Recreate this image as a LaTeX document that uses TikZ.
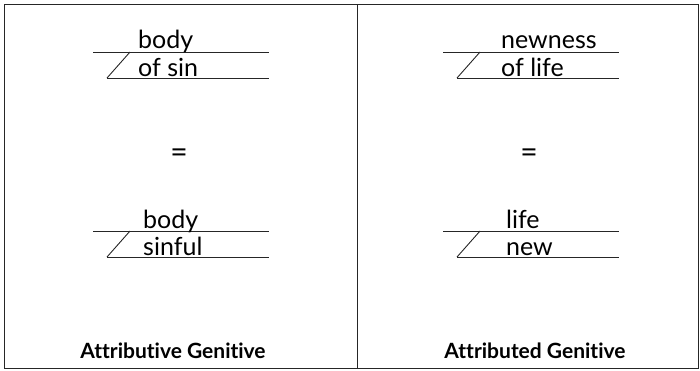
\documentclass[tikz,border=0pt]{standalone}
\usepackage{fontspec}
\setmainfont{Lato}[Ligatures=NoCommon]
\usepackage{tikz}
\usetikzlibrary{positioning, calc}

\tikzset{
  word/.style={font=\fontsize{25}{25}\selectfont, inner sep=0pt, anchor=base west},
  equals/.style={font=\fontsize{30}{30}\selectfont, inner sep=0pt},
  caption/.style={font=\bfseries\fontsize{21}{21}\selectfont, inner sep=0pt, anchor=base},
  rule/.style={line width=0.9pt, black!85}
}

\begin{document}
\begin{tikzpicture}[x=1pt, y=-1pt]
  \useasboundingbox (0,0) rectangle (700,370);
  % frame and divider
  \draw[line width=1.6pt, black!85] (4.5,4.5) rectangle (698.5,368.5);
  \coordinate (divtop) at (357,4.5);
  \coordinate (divbot) at (357,368.5);
  \draw[line width=1pt, black!85] (divtop) -- (divbot);

  % diagram lines
  \foreach \dx/\dy in {0/0, 350/0, 0/179, 350/179} {
    \begin{scope}[xshift=\dx, yshift=-\dy]
      \coordinate (ul) at (93,52);
      \coordinate (ur) at (269,52);
      \coordinate (sl) at (130,52);
      \coordinate (ll) at (107,78);
      \coordinate (lr) at (269,78);
      \draw[rule] (ul) -- (ur);
      \draw[rule] (ll) -- (lr);
      \draw[rule] (ll) -- (sl);
    \end{scope}
  }

  % left column
  \node[word] (bodyA) at (138,48) {body};
  \node[word] (ofsin) at (138,76) {of sin};
  \node[equals] (eqA) at (179,156) {=};
  \node[word] (bodyB) at (143,228) {body};
  \node[word] (sinful) at (143,255) {sinful};
  \node[caption] (capA) at (173,358) {Attributive Genitive};

  % right column
  \node[word] (newness) at (501,48) {newness};
  \node[word] (oflife) at (501,76) {of life};
  \node[equals] (eqB) at (529,156) {=};
  \node[word] (lifeB) at (506,228) {life};
  \node[word] (new) at (506,255) {new};
  \node[caption] (capB) at (535,358) {Attributed Genitive};
\end{tikzpicture}
\end{document}
